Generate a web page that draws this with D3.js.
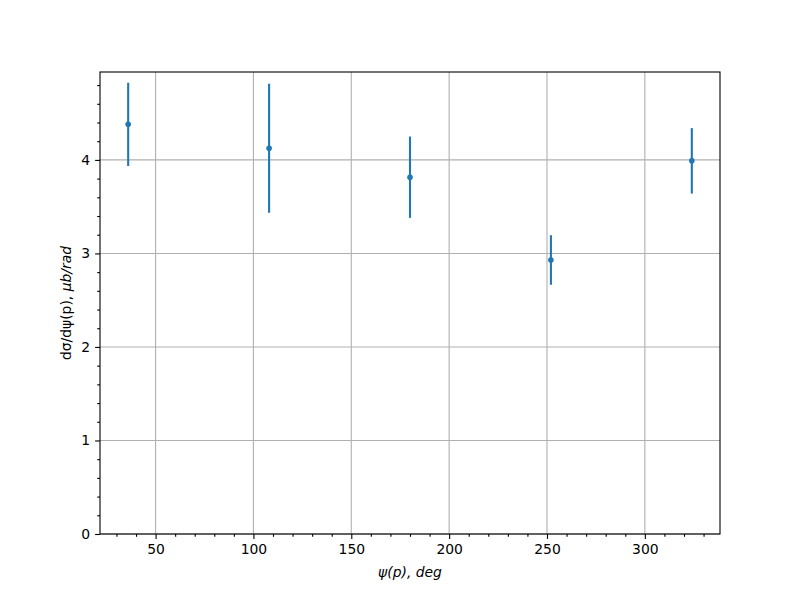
<!DOCTYPE html>
<html><head><meta charset="utf-8">
<script src="https://cdn.jsdelivr.net/npm/d3@7"></script>
<style>body{margin:0;background:#fff;} svg{display:block;font-family:"DejaVu Sans",sans-serif;}</style>
</head><body>
<svg id="c" width="800" height="600"></svg>
<script>
const angles = [36, 108, 180, 252, 324];
const values = [4.38, 4.125, 3.815, 2.93, 3.99];
const errors = [0.445, 0.69, 0.435, 0.265, 0.35];
const xTicks = [50, 100, 150, 200, 250, 300];
const yTicks = [0, 1, 2, 3, 4];

const L = 100, R = 720, T = 72, B = 534;
const svg = d3.select("#c");
const x = d3.scaleLinear().domain([21.6, 338.4]).range([L, R]);
const y = d3.scaleLinear().domain([0, 4.94]).range([B, T]);

// grid
const g = svg.append("g");
xTicks.forEach(t => g.append("line").attr("x1", x(t)).attr("x2", x(t)).attr("y1", T).attr("y2", B)
  .attr("stroke", "#b0b0b0").attr("stroke-width", 1.1));
yTicks.forEach(t => g.append("line").attr("x1", L).attr("x2", R).attr("y1", y(t)).attr("y2", y(t))
  .attr("stroke", "#b0b0b0").attr("stroke-width", 1.1));

// axes
const xMinor = d3.range(30, 340, 10).filter(v => v % 50 !== 0);
const yMinor = d3.range(1, 25).map(i => i * 0.2).filter(v => Math.abs(v - Math.round(v)) > 1e-6 && v < 4.94);

const xAxis = d3.axisBottom(x).tickValues(xTicks).tickSize(4.9).tickPadding(4.9).tickFormat(d3.format("d"));
const xAxisMinor = d3.axisBottom(x).tickValues(xMinor).tickSize(2.8).tickFormat("");
const yAxis = d3.axisLeft(y).tickValues(yTicks).tickSize(4.9).tickPadding(4.9).tickFormat(d3.format("d"));
const yAxisMinor = d3.axisLeft(y).tickValues(yMinor).tickSize(2.8).tickFormat("");

function style(sel) {
  sel.select(".domain").remove();
  sel.selectAll("line").attr("stroke", "#000").attr("stroke-width", 1.1);
  sel.selectAll("text").attr("font-size", "13.9px").attr("fill", "#000").attr("font-family", "DejaVu Sans");
}
svg.append("g").attr("transform", `translate(0,${B})`).call(xAxis).call(style);
svg.append("g").attr("transform", `translate(0,${B})`).call(xAxisMinor).call(style);
svg.append("g").attr("transform", `translate(${L},0)`).call(yAxis).call(style);
svg.append("g").attr("transform", `translate(${L},0)`).call(yAxisMinor).call(style);

// frame
svg.append("rect").attr("x", L).attr("y", T).attr("width", R - L).attr("height", B - T)
  .attr("fill", "none").attr("stroke", "#000").attr("stroke-width", 1.1);

// error bars
const color = "#1f77b4";
const data = angles.map((a, i) => ({a, v: values[i], e: errors[i]}));
svg.append("g").selectAll("line").data(data).join("line")
  .attr("x1", d => x(d.a)).attr("x2", d => x(d.a))
  .attr("y1", d => y(d.v - d.e)).attr("y2", d => y(d.v + d.e))
  .attr("stroke", color).attr("stroke-width", 2.1);
svg.append("g").selectAll("circle").data(data).join("circle")
  .attr("cx", d => x(d.a)).attr("cy", d => y(d.v)).attr("r", 2.8).attr("fill", color);

// labels
const xl = svg.append("text").attr("x", (L + R) / 2).attr("y", 577).attr("text-anchor", "middle")
  .attr("font-size", "13.9px").attr("font-style", "italic");
xl.text("ψ(p), deg");

const yl = svg.append("text").attr("transform", `translate(71,${(T + B) / 2}) rotate(-90)`)
  .attr("text-anchor", "middle").attr("font-size", "13.9px");
yl.append("tspan").text("dσ/dψ(p), ");
yl.append("tspan").attr("font-style", "italic").text("μb/rad");
</script>
</body></html>
